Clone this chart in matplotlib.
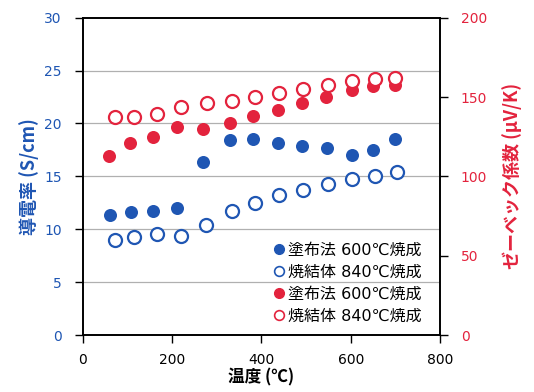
import matplotlib
matplotlib.use("Agg")
import matplotlib.pyplot as plt
from matplotlib.lines import Line2D

plt.rcParams['font.family'] = ['DejaVu Sans', 'Noto Sans CJK JP']

BLUE = '#1f56b3'
RED = '#e3233d'

# Conductivity (S/cm), coated 600C (filled blue)
t_coat_cond = [60, 108, 158, 212, 270, 330, 382, 438, 490, 546, 602, 650, 700]
cond_coat = [11.4, 11.6, 11.75, 12.0, 16.4, 18.4, 18.5, 18.2, 17.9, 17.7, 17.05, 17.5, 18.55]
# Conductivity, sintered 840C (open blue)
t_sint_cond = [72, 114, 166, 220, 277, 335, 385, 439, 493, 549, 602, 655, 703]
cond_sint = [8.95, 9.27, 9.55, 9.4, 10.45, 11.75, 12.5, 13.2, 13.75, 14.3, 14.75, 15.0, 15.4]
# Seebeck (uV/K), coated 600C (filled red)
t_coat_seeb = [59, 106, 157, 212, 269, 329, 382, 438, 490, 545, 602, 651, 700]
seeb_coat = [112.8, 120.8, 125.0, 130.9, 130.0, 133.8, 138.0, 141.6, 146.0, 149.8, 154.6, 157.1, 157.4]
# Seebeck, sintered 840C (open red)
t_sint_seeb = [72, 114, 166, 219, 278, 335, 385, 439, 494, 549, 602, 654, 700]
seeb_sint = [137.4, 137.6, 139.0, 143.9, 146.0, 147.5, 149.8, 152.3, 154.8, 157.3, 160.0, 161.3, 162.2]

legend_labels = ['塗布法 600℃焼成', '焼結体 840℃焼成', '塗布法 600℃焼成', '焼結体 840℃焼成']

fig = plt.figure(figsize=(5.34, 3.92), dpi=100)
ax = fig.add_axes([0.155, 0.145, 0.669, 0.81])
ax2 = ax.twinx()

ms = 88
ax.scatter(t_coat_cond, cond_coat, s=ms, color=BLUE, zorder=3, linewidths=0)
ax.scatter(t_sint_cond, cond_sint, s=ms, facecolors='white', edgecolors=BLUE, linewidths=1.6, zorder=3)
ax2.scatter(t_coat_seeb, seeb_coat, s=ms, color=RED, zorder=3, linewidths=0)
ax2.scatter(t_sint_seeb, seeb_sint, s=ms, facecolors='white', edgecolors=RED, linewidths=1.6, zorder=3)

ax.set_xlim(0, 800)
ax.set_ylim(0, 30)
ax2.set_ylim(0, 200)
ax.set_xticks([0, 200, 400, 600, 800])
ax.set_yticks([0, 5, 10, 15, 20, 25, 30])
ax2.set_yticks([0, 50, 100, 150, 200])

for y in [5, 10, 15, 20, 25]:
    ax.axhline(y, color='#b0b0b0', lw=0.9, zorder=1)

ax.tick_params(axis='y', colors=BLUE, labelsize=10, direction='out', length=6, width=1, pad=9)
ax.tick_params(axis='y', which='both', color='black')
ax.tick_params(axis='x', labelsize=10, direction='out', length=6, width=1, pad=7)
ax2.tick_params(axis='y', colors=RED, labelsize=10, direction='out', length=6, width=1, pad=9)
ax2.tick_params(axis='y', color='black')
for a in (ax, ax2):
    for s in a.spines.values():
        s.set_color('black')
        s.set_linewidth(1.2)

lab_font = ['Noto Sans CJK JP', 'DejaVu Sans']
ax.set_xlabel('温度 (℃)', fontsize=12, fontweight='bold', family=lab_font, labelpad=1)
ax.set_ylabel('導電率 (S/cm)', fontsize=13, fontweight='bold', family=lab_font, color=BLUE, labelpad=4)
ax2.set_ylabel('ゼーベック係数 (μV/K)', fontsize=13, fontweight='bold', family=lab_font, color=RED,
               labelpad=11, rotation=90)

handles = [
    Line2D([], [], marker='o', ls='', markersize=7, markerfacecolor=BLUE, markeredgecolor=BLUE),
    Line2D([], [], marker='o', ls='', markersize=7, markerfacecolor='white', markeredgecolor=BLUE, markeredgewidth=1.2),
    Line2D([], [], marker='o', ls='', markersize=7, markerfacecolor=RED, markeredgecolor=RED),
    Line2D([], [], marker='o', ls='', markersize=7, markerfacecolor='white', markeredgecolor=RED, markeredgewidth=1.2),
]
ax2.legend(handles, legend_labels, loc='lower right', bbox_to_anchor=(0.99, -0.01), frameon=False,
           prop={'size': 11.5}, handletextpad=0.1, handlelength=1.0, labelspacing=0.45, borderaxespad=0.5)

fig.savefig('out.png', dpi=100)
